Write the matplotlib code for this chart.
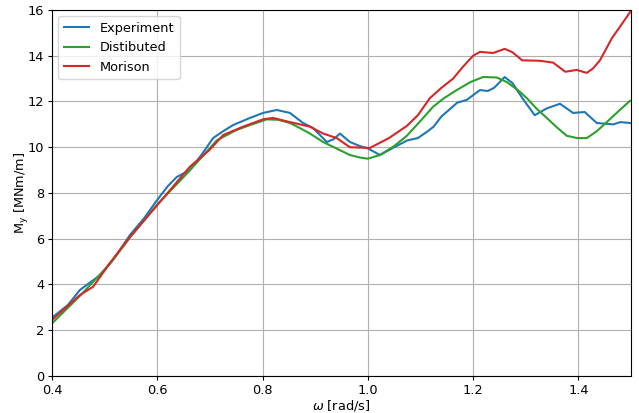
import matplotlib
matplotlib.use('Agg')
import matplotlib.pyplot as plt

plt.rcParams['font.size'] = 9.3
plt.rcParams['xtick.major.size'] = 3
plt.rcParams['ytick.major.size'] = 3
plt.rcParams['xtick.major.pad'] = 2.5
plt.rcParams['ytick.major.pad'] = 2.5

# Experiment
w_exp = [0.40, 0.43, 0.453, 0.47, 0.491, 0.52, 0.548, 0.575, 0.60, 0.62, 0.637, 0.662,
         0.685, 0.706, 0.725, 0.744, 0.776, 0.801, 0.827, 0.852, 0.877, 0.896, 0.922,
         0.935, 0.947, 0.966, 0.985, 1.00, 1.023, 1.05, 1.075, 1.095, 1.112, 1.125,
         1.14, 1.155, 1.17, 1.188, 1.213, 1.228, 1.24, 1.26, 1.275, 1.295, 1.317,
         1.34, 1.365, 1.39, 1.412, 1.435, 1.466, 1.48, 1.498]
m_exp = [2.55, 3.1, 3.76, 4.05, 4.4, 5.2, 6.16, 6.9, 7.7, 8.3, 8.7, 9.0,
         9.7, 10.4, 10.7, 10.97, 11.28, 11.5, 11.63, 11.5, 11.06, 10.84, 10.23,
         10.35, 10.6, 10.23, 10.05, 9.95, 9.66, 10.0, 10.3, 10.4, 10.67, 10.9,
         11.35, 11.65, 11.95, 12.07, 12.5, 12.46, 12.6, 13.07, 12.8, 12.1, 11.4,
         11.7, 11.9, 11.5, 11.54, 11.06, 11.0, 11.1, 11.06]

# Distibuted
w_dis = [0.40, 0.453, 0.51, 0.548, 0.60, 0.65, 0.68, 0.713, 0.75, 0.78, 0.808, 0.83,
         0.852, 0.87, 0.89, 0.915, 0.94, 0.966, 0.985, 1.0, 1.023, 1.05, 1.074, 1.10,
         1.124, 1.145, 1.169, 1.195, 1.219, 1.245, 1.264, 1.285, 1.302, 1.32, 1.34,
         1.36, 1.378, 1.398, 1.416, 1.435, 1.454, 1.475, 1.498]
m_dis = [2.3, 3.5, 4.9, 6.05, 7.5, 8.7, 9.45, 10.3, 10.75, 11.0, 11.22, 11.2,
         11.06, 10.85, 10.6, 10.23, 9.95, 9.66, 9.55, 9.5, 9.66, 10.05, 10.5, 11.15,
         11.77, 12.15, 12.5, 12.85, 13.07, 13.05, 12.85, 12.5, 12.15, 11.7, 11.28,
         10.85, 10.5, 10.4, 10.4, 10.7, 11.1, 11.55, 12.03]

# Morison
w_mor = [0.40, 0.453, 0.478, 0.51, 0.548, 0.60, 0.662, 0.70, 0.725, 0.763, 0.801,
         0.82, 0.852, 0.89, 0.915, 0.941, 0.966, 1.004, 1.04, 1.074, 1.095, 1.118,
         1.14, 1.162, 1.18, 1.2, 1.213, 1.238, 1.26, 1.275, 1.293, 1.327, 1.352,
         1.375, 1.397, 1.416, 1.428, 1.441, 1.464, 1.48, 1.498]
m_mor = [2.45, 3.54, 3.9, 4.94, 6.08, 7.47, 9.15, 9.9, 10.53, 10.9, 11.22,
         11.28, 11.1, 10.9, 10.6, 10.4, 10.0, 9.97, 10.4, 10.93, 11.4, 12.15,
         12.6, 13.0, 13.5, 14.0, 14.17, 14.12, 14.3, 14.15, 13.8, 13.78, 13.7,
         13.3, 13.38, 13.25, 13.45, 13.8, 14.78, 15.3, 15.9]

fig, ax = plt.subplots(figsize=(6.39, 4.13), dpi=100)
fig.subplots_adjust(left=0.0814, right=0.9875, bottom=0.0896, top=0.9758)

ax.plot(w_exp, m_exp, color='tab:blue', label='Experiment')
ax.plot(w_dis, m_dis, color='tab:green', label='Distibuted')
ax.plot(w_mor, m_mor, color='tab:red', label='Morison')

ax.set_xlim(0.4, 1.5)
ax.set_ylim(0, 16)
ax.grid(True)
ax.set_xlabel(r'$\omega$ [rad/s]', labelpad=1)
ax.set_ylabel(r'$\mathrm{M_y}$ [MNm/m]', labelpad=-2)
ax.legend(loc='upper left')

fig.savefig('out.png', dpi=100)
